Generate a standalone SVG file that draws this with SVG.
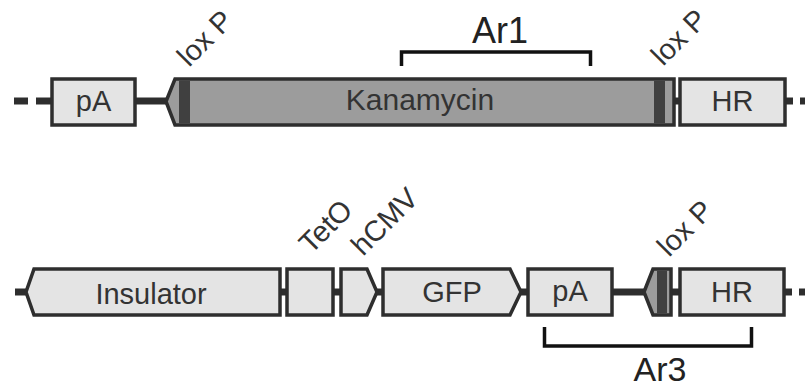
<svg xmlns="http://www.w3.org/2000/svg" width="805" height="387" viewBox="0 0 805 387">
<style>
.box{fill:#e4e4e4;stroke:#2e2e2e;stroke-width:3.5;stroke-linejoin:miter}
.kan{fill:#9c9c9c;stroke:#2e2e2e;stroke-width:3.5}
.band{fill:#404040}
.lox{fill:#9c9c9c;stroke:#2e2e2e;stroke-width:3.5}
.ln{stroke:#2e2e2e;stroke-width:7;fill:none}
.br{stroke:#111;stroke-width:3.5;fill:none}
.t{font-family:"Liberation Sans",Arial,sans-serif;font-size:29px;fill:#333;text-anchor:middle}
.lab{font-family:"Liberation Sans",Arial,sans-serif;font-size:29px;fill:#333}
.ar{font-family:"Liberation Sans",Arial,sans-serif;font-size:36px;fill:#222;text-anchor:middle}
</style>
<rect width="805" height="387" fill="#fff"/>
<g id="connectors">
<line class="ln" x1="14" y1="101" x2="28" y2="101"/>
<line class="ln" x1="36" y1="101" x2="52" y2="101"/>
<line class="ln" x1="135" y1="101" x2="166" y2="101"/>
<line class="ln" x1="674" y1="101" x2="680" y2="101"/>
<line class="ln" x1="785" y1="101" x2="793" y2="101"/>
<line class="ln" x1="800" y1="101" x2="806" y2="101"/>
<line class="ln" x1="15" y1="292" x2="26" y2="292"/>
<line class="ln" x1="280" y1="292" x2="287" y2="292"/>
<line class="ln" x1="333" y1="292" x2="341" y2="292"/>
<line class="ln" x1="376" y1="292" x2="383" y2="292"/>
<line class="ln" x1="521" y1="292" x2="528" y2="292"/>
<line class="ln" x1="612" y1="292" x2="644" y2="292"/>
<line class="ln" x1="671" y1="292" x2="680" y2="292"/>
<line class="ln" x1="784" y1="292" x2="792" y2="292"/>
<line class="ln" x1="799" y1="292" x2="806" y2="292"/>
</g>
<g id="pA1">
<rect class="box" x="52" y="79" width="83" height="46"/>
<text class="t" x="93.5" y="111">pA</text>
</g>
<g id="kanamycin">
<polygon class="kan" points="166,101.5 175,79 674,79 674,125 175,125"/>
<rect class="band" x="179" y="80.75" width="11" height="42.5"/>
<rect class="band" x="654" y="80.75" width="11" height="42.5"/>
<text class="t" x="420" y="110" style="font-size:30px">Kanamycin</text>
</g>
<g id="HR1">
<rect class="box" x="680" y="79" width="105" height="46"/>
<text class="t" x="732.5" y="111">HR</text>
</g>
<g id="loxP1-label"><text class="lab" transform="translate(189 68) rotate(-45)">lox P</text></g>
<g id="loxP2-label"><text class="lab" transform="translate(663 67) rotate(-45)">lox P</text></g>
<g id="Ar1">
<polyline class="br" points="401.5,66 401.5,52 590.5,52 590.5,66"/>
<text class="ar" x="500" y="43">Ar1</text>
</g>
<g id="insulator">
<polygon class="box" points="26,292 34,269 280,269 280,315 34,315"/>
<text class="t" x="151" y="304">Insulator</text>
</g>
<g id="tetO">
<rect class="box" x="287" y="269" width="46" height="46"/>
<text class="lab" transform="translate(311 255) rotate(-45)">TetO</text>
</g>
<g id="hCMV">
<polygon class="box" points="341,269 367,269 377,292 367,315 341,315"/>
<text class="lab" transform="translate(363 257) rotate(-45)">hCMV</text>
</g>
<g id="GFP">
<polygon class="box" points="383,269 510,269 521,292 510,315 383,315"/>
<text class="t" x="452" y="302">GFP</text>
</g>
<g id="pA2">
<rect class="box" x="528" y="269" width="84" height="46"/>
<text class="t" x="570" y="301">pA</text>
</g>
<g id="loxP3">
<polygon class="lox" points="644,292 653,269 671,269 671,315 653,315"/>
<rect class="band" x="657" y="270.75" width="10" height="42.5"/>
<text class="lab" transform="translate(669 258) rotate(-45)">lox P</text>
</g>
<g id="HR2">
<rect class="box" x="680" y="269" width="104" height="46"/>
<text class="t" x="732" y="302">HR</text>
</g>
<g id="Ar3">
<polyline class="br" points="544.5,327 544.5,346 751.5,346 751.5,327"/>
<text class="ar" x="660" y="381" style="font-size:34px">Ar3</text>
</g>
</svg>
